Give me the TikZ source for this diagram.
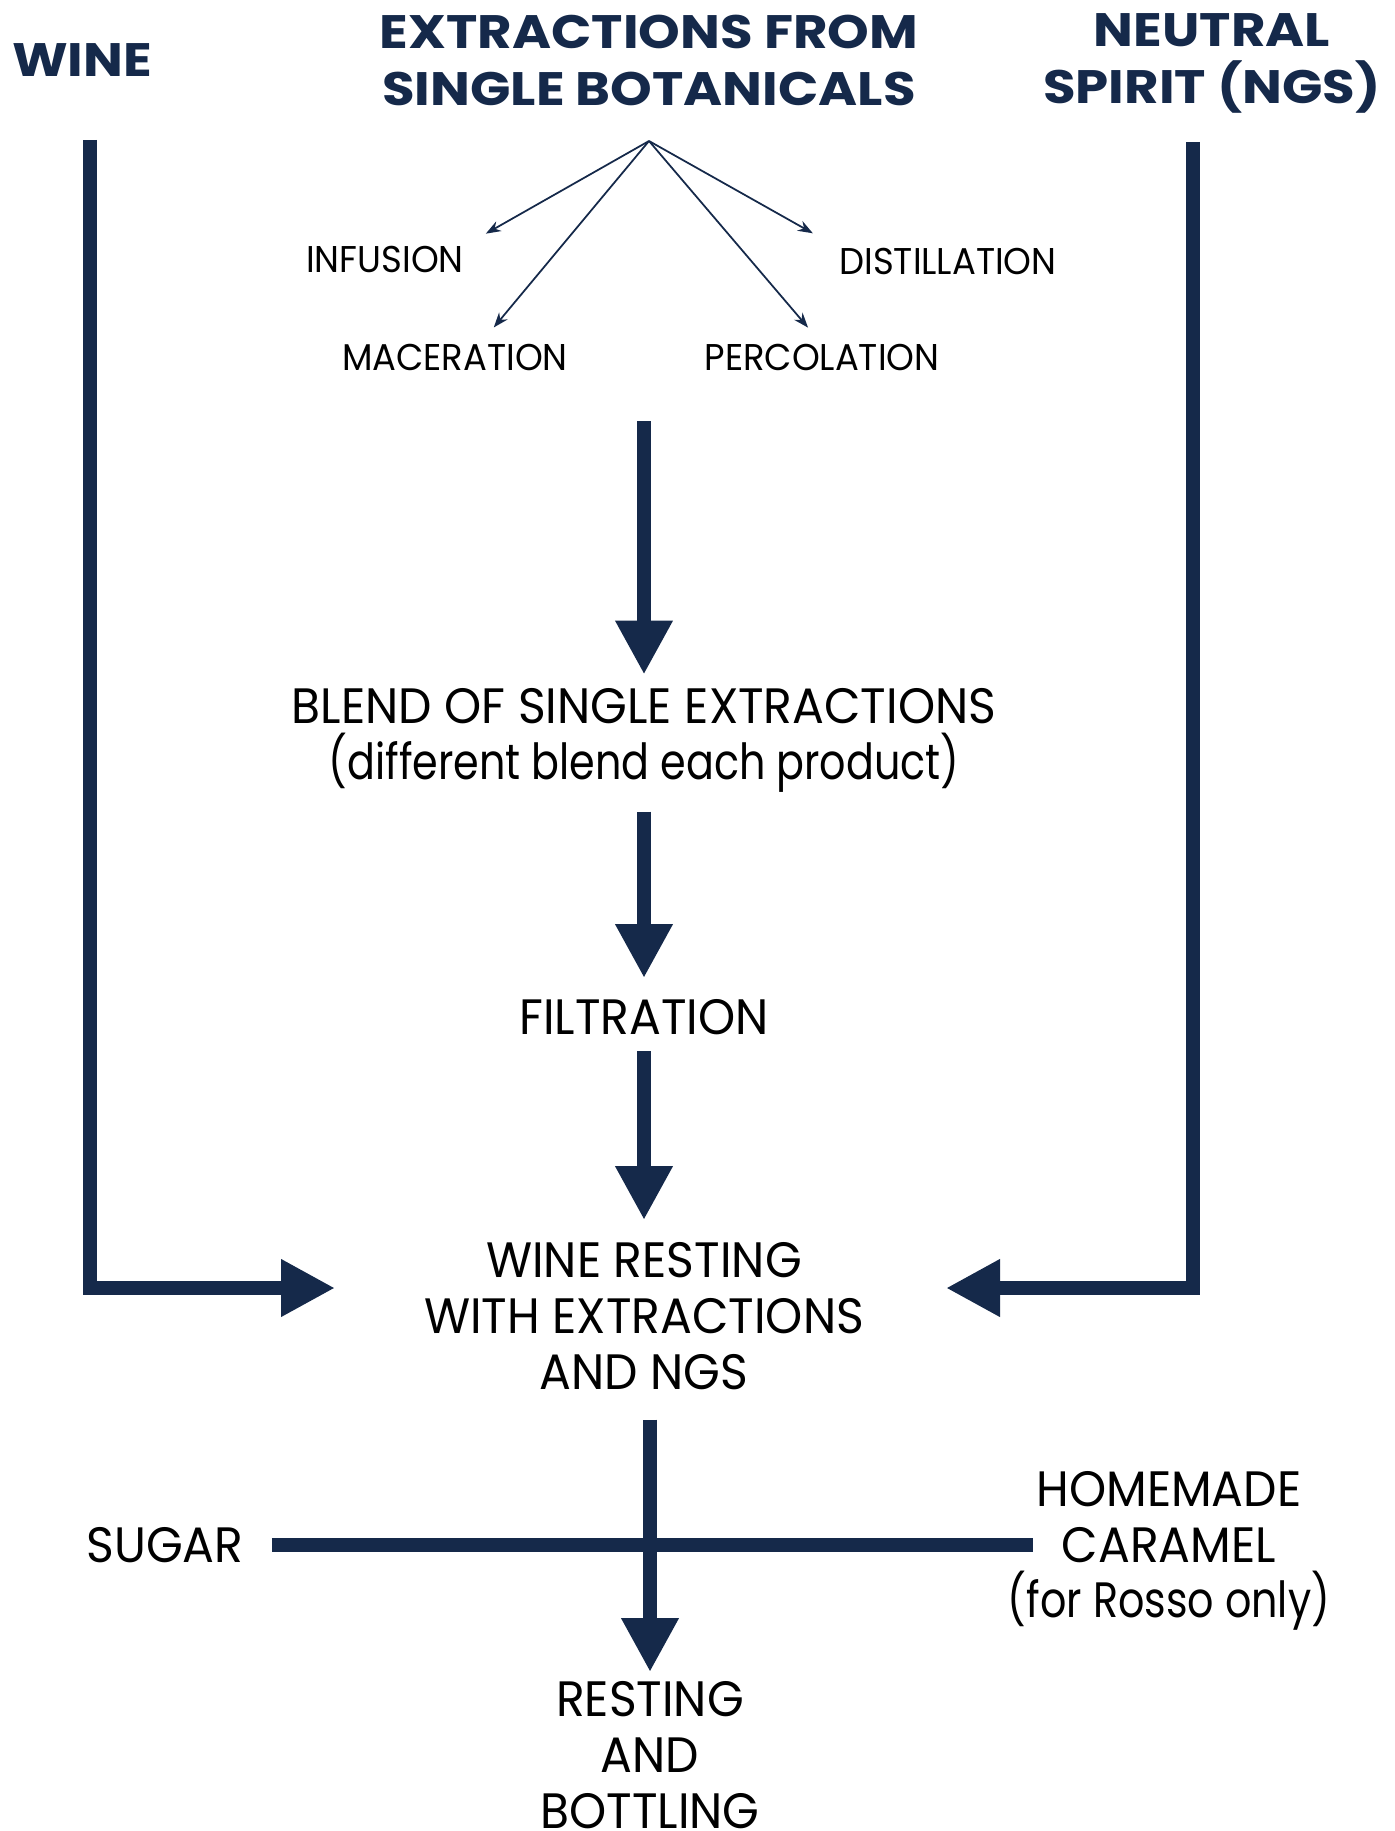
\documentclass[tikz,border=0pt]{standalone}
\usepackage{fontspec}
\setmainfont{Poppins}[FakeStretch=0.95]
\newfontfamily\headfont{Poppins}[FakeStretch=1.13]
\newfontfamily\lowfont{Poppins}[FakeStretch=0.83]
\usetikzlibrary{arrows.meta, positioning}
\definecolor{navy}{RGB}{21,41,74}

\tikzset{
  flow/.style={draw=navy, line width=0.266cm, line join=miter,
    -{Triangle[length=1.08cm, width=1.08cm]}},
  bar/.style={draw=navy, line width=0.266cm},
  fanarrow/.style={draw=navy, line width=1pt, -{Stealth[length=0.3cm, width=0.22cm]}},
  heading/.style={font=\headfont\fontsize{26.7}{32.5}\selectfont\bfseries, text=navy,
    align=center, inner sep=0pt, anchor=north},
  stage/.style={font=\fontsize{28.3}{31.75}\selectfont, align=center,
    inner sep=0pt, anchor=north},
  method/.style={font=\fontsize{21.2}{24}\selectfont, inner sep=0pt, anchor=north},
}

\begin{document}
\begin{tikzpicture}[x=0.02cm, y=-0.02cm]
  \useasboundingbox (0,0) rectangle (1394,1831);

  % ingredients
  \node[heading] (wine) at (82,43) {WINE};
  \node[heading] (extr) at (649,15) {EXTRACTIONS FROM\\SINGLE BOTANICALS};
  \node[heading] (ngs) at (1212,13) {NEUTRAL\\SPIRIT (NGS)};

  % extraction methods
  \coordinate (fan) at (649,141);
  \node[method] (infusion) at (385,246) {INFUSION};
  \node[method] (distill) at (948,248) {DISTILLATION};
  \node[method] (macer) at (455,344) {MACERATION};
  \node[method] (percol) at (822,344) {PERCOLATION};
  \draw[fanarrow, shorten >=0.5cm] (fan) -- (infusion.north east);
  \draw[fanarrow, shorten >=0.6cm] (fan) -- (distill.north west);
  \draw[fanarrow, shorten >=0.43cm] (fan) -- ([xshift=0.5cm]macer.north);
  \draw[fanarrow, shorten >=0.43cm] (fan) -- (percol.north);

  % main line
  \node[stage] (blend) at (644,688) {BLEND OF SINGLE EXTRACTIONS\\{\lowfont(different blend each product)}};
  \node[stage] (filter) at (644,999) {FILTRATION};
  \node[stage] (resting) at (644,1242) {WINE RESTING\\WITH EXTRACTIONS\\AND NGS};
  \node[stage] (bottling) at (650,1681) {RESTING\\AND\\BOTTLING};
  \node[stage] (sugar) at (165,1527) {SUGAR};
  \node[stage] (caramel) at (1169,1471) {HOMEMADE\\CARAMEL\\{\lowfont(for Rosso only)}};

  \coordinate (collect) at (644,421);
  \draw[flow, shorten >=0.27cm] (collect) -- (blend.north);
  \draw[flow, shorten <=0.38cm, shorten >=0.42cm] (blend.south) -- (filter.north);
  \draw[flow, shorten <=0.32cm, shorten >=0.44cm] (filter.south) -- (resting.north);
  \draw[flow, shorten <=0.6cm, shorten >=0.18cm] (bottling.north |- resting.south) -- (bottling.north);
  \draw[bar, shorten <=0.56cm, shorten >=-0.5cm] (sugar.east) -- (sugar.east -| caramel.west);

  % wine and spirit feed into the resting
  \coordinate (winetop) at (90,140);
  \coordinate (winein) at (335,1288);
  \coordinate (ngstop) at (1193,142);
  \coordinate (ngsin) at (946,1288);
  \draw[flow] (winetop) |- (winein);
  \draw[flow] (ngstop) |- (ngsin);
\end{tikzpicture}
\end{document}
